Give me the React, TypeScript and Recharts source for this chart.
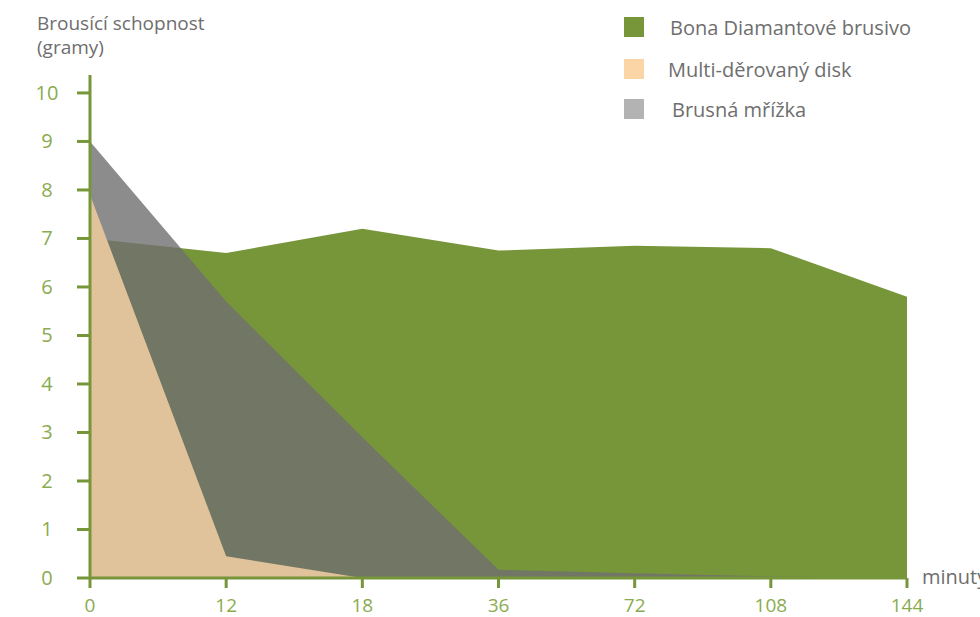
import React from 'react';
import { AreaChart, Area, XAxis, YAxis } from 'recharts';

const minutes = ['0', '12', '18', '36', '72', '108', '144'];
const bonaDiamant = [7, 6.7, 7.2, 6.75, 6.85, 6.8, 5.8];
const multiDisk = [7.9, 0.45, 0, 0, 0, 0, 0];
const brusnaMrizka = [9, 5.7, 2.9, 0.17, 0.1, 0.03, 0];
const yTicks = [0, 1, 2, 3, 4, 5, 6, 7, 8, 9, 10];

const data = minutes.map((m, i) => ({
  m,
  bona: bonaDiamant[i],
  multi: multiDisk[i],
  mrizka: brusnaMrizka[i],
}));

const AXIS = '#77963a';
const LABEL = '#8aab50';
const TEXT = '#6e6e6e';
const FONT = "'Open Sans', 'Liberation Sans', sans-serif";

const legend = [
  { name: 'Bona Diamantové brusivo', color: '#77963a', top: 17, left: 670 },
  { name: 'Multi-děrovaný disk', color: '#fbd5a6', top: 59, left: 668 },
  { name: 'Brusná mřížka', color: '#b3b3b3', top: 99, left: 672 },
];

const YTick = (props: any) => (
  <text x={47} y={props.y} dy={7} textAnchor="middle" fill={LABEL} fontSize={20} fontFamily={FONT}>
    {props.payload.value}
  </text>
);

const XTick = (props: any) => (
  <text x={props.x} y={612} textAnchor="middle" fill={LABEL} fontSize={19} fontFamily={FONT}>
    {props.payload.value}
  </text>
);

export default function App() {
  return (
    <div style={{ position: 'absolute', left: 0, top: 0, width: 980, height: 617, background: '#fff', fontFamily: FONT, overflow: 'hidden' }}>
      <div style={{ position: 'absolute', left: 37, top: 12, fontSize: 19, lineHeight: '22px', color: TEXT }}>Brousící schopnost</div>
      <div style={{ position: 'absolute', left: 37, top: 36, fontSize: 19, lineHeight: '22px', color: TEXT }}>(gramy)</div>
      <div style={{ position: 'absolute', left: 922, top: 565, fontSize: 20, lineHeight: '24px', color: TEXT, whiteSpace: 'nowrap' }}>minuty</div>
      {legend.map((l) => (
        <div key={l.name} style={{ position: 'absolute', left: 624, top: l.top, height: 20, display: 'flex', alignItems: 'center' }}>
          <div style={{ width: 20, height: 20, background: l.color }} />
          <span style={{ position: 'absolute', left: l.left - 624, whiteSpace: 'nowrap', fontSize: 20, color: TEXT }}>
            {l.name}
          </span>
        </div>
      ))}
      <AreaChart width={980} height={617} data={data} margin={{ top: 75, right: 73, bottom: 9, left: 0 }}>
        <XAxis
          dataKey="m"
          axisLine={{ stroke: AXIS, strokeWidth: 3 }}
          tickLine={{ stroke: AXIS, strokeWidth: 3 }}
          tickSize={10}
          tick={<XTick />}
          height={30}
          interval={0}
        />
        <YAxis
          type="number"
          domain={[0, 10.37]}
          ticks={yTicks}
          axisLine={{ stroke: AXIS, strokeWidth: 3 }}
          tickLine={{ stroke: AXIS, strokeWidth: 3 }}
          tickSize={13}
          tick={<YTick />}
          width={90}
        />
        <Area type="linear" dataKey="bona" stroke="none" fill="#77963a" fillOpacity={1} isAnimationActive={false} />
        <Area type="linear" dataKey="mrizka" stroke="none" fill="#6f6f6f" fillOpacity={0.8} isAnimationActive={false} />
        <Area type="linear" dataKey="multi" stroke="none" fill="#e0c39a" fillOpacity={1} isAnimationActive={false} />
      </AreaChart>
    </div>
  );
}
